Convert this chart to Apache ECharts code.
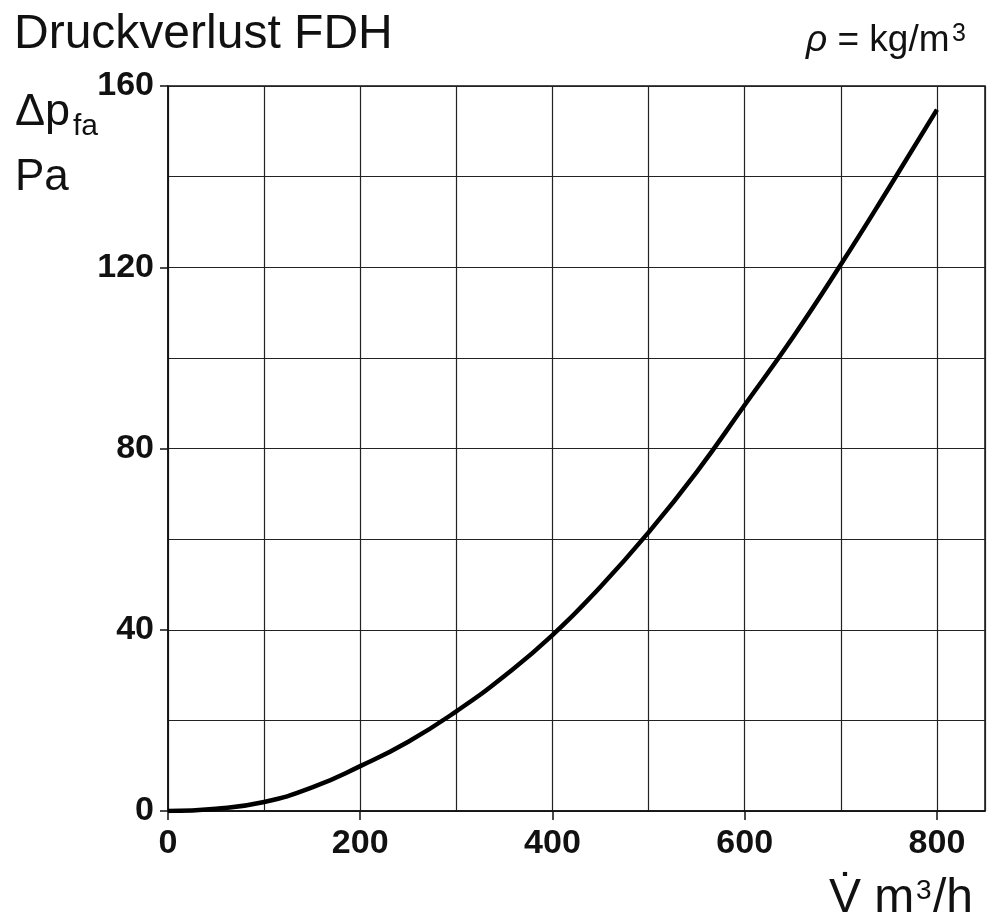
<!DOCTYPE html>
<html>
<head>
<meta charset="utf-8">
<script src="https://cdn.jsdelivr.net/npm/echarts@6/dist/echarts.min.js"></script>
<style>
html,body{margin:0;padding:0;background:#fff;}
#chart{width:1000px;height:921px;}
</style>
</head>
<body>
<div id="chart"></div>
<script>
// Data
const flowRates = [0, 50, 100, 150, 200, 250, 300, 350, 400, 450, 500, 550, 600, 650, 700, 750, 800];
const pressureLoss = [0, 0.5, 2.0, 5.2, 9.9, 15.3, 22.0, 29.8, 38.8, 49.5, 61.5, 74.8, 89.6, 104.5, 120.6, 137.5, 154.8];
const xTickLabels = [0, 200, 400, 600, 800];
const yTickLabels = [0, 40, 80, 120, 160];

const FONT = "'Liberation Sans', Arial, Helvetica, sans-serif";
const chart = echarts.init(document.getElementById('chart'), null, {renderer: 'canvas'});

const seriesData = flowRates.map((v, i) => [v, pressureLoss[i]]);
const gridLine = {show: true, lineStyle: {color: '#222', width: 1.2}};

const option = {
  backgroundColor: '#ffffff',
  animation: false,
  grid: {
    left: 168, right: 15, top: 86, bottom: 110,
    show: true, borderColor: '#111', borderWidth: 1.5, backgroundColor: 'transparent'
  },
  xAxis: [{
    type: 'value', min: 0, max: 850, interval: 100,
    axisLine: {show: true, onZero: false, lineStyle: {color: '#111', width: 1.5}},
    axisTick: {show: true, inside: false, length: 9, customValues: xTickLabels, lineStyle: {color: '#111', width: 1.5}},
    axisLabel: {
      show: true, customValues: xTickLabels, margin: 16,
      fontFamily: FONT, fontWeight: 'bold', fontSize: 34, color: '#111',
      formatter: v => String(v)
    },
    splitLine: {show: false},
    z: 3
  }, {
    type: 'value', min: 0, max: 850, interval: 100, position: 'bottom',
    axisLine: {show: false}, axisTick: {show: false}, axisLabel: {show: false},
    splitLine: gridLine
  }],
  yAxis: [{
    type: 'value', min: 0, max: 160, interval: 20,
    axisLine: {show: true, onZero: false, lineStyle: {color: '#111', width: 1.5}},
    axisTick: {show: true, inside: false, length: 8, customValues: yTickLabels, lineStyle: {color: '#111', width: 1.5}},
    axisLabel: {
      show: true, customValues: yTickLabels, margin: 14,
      fontFamily: FONT, fontWeight: 'bold', fontSize: 34, color: '#111',
      formatter: v => String(v)
    },
    splitLine: {show: false},
    z: 3
  }, {
    type: 'value', min: 0, max: 160, interval: 20, position: 'left',
    axisLine: {show: false}, axisTick: {show: false}, axisLabel: {show: false},
    splitLine: gridLine
  }],
  series: [{
    type: 'line',
    xAxisIndex: 0, yAxisIndex: 0,
    data: seriesData,
    smooth: 0.5,
    showSymbol: false,
    symbol: 'none',
    lineStyle: {color: '#000', width: 4.5},
    z: 5
  }],
  graphic: [
    {type: 'text', left: 14, top: 11, style: {text: 'Druckverlust FDH', font: '48px ' + FONT, fill: '#111'}},
    {type: 'text', x: 15, y: 113, style: {text: 'Δp', font: '45px ' + FONT, fill: '#111', verticalAlign: 'middle'}},
    {type: 'text', x: 73, y: 127, style: {text: 'fa', font: '30px ' + FONT, fill: '#111', verticalAlign: 'middle'}},
    {type: 'text', x: 15, y: 178, style: {text: 'Pa', font: '44px ' + FONT, fill: '#111', verticalAlign: 'middle'}},
    {type: 'text', x: 806, y: 41, style: {
      text: '{i|ρ}{a| = kg/m}', fill: '#111', verticalAlign: 'middle',
      rich: {i: {font: 'italic 37px ' + FONT, fill: '#111'}, a: {font: '37px ' + FONT, fill: '#111'}}
    }},
    {type: 'text', x: 952, y: 34, style: {text: '3', font: '25px ' + FONT, fill: '#111', verticalAlign: 'middle'}},
    {type: 'text', x: 829, y: 899, style: {text: 'V\u0307 m', font: '48px ' + FONT, fill: '#111', verticalAlign: 'middle'}},
    {type: 'text', x: 916, y: 891, style: {text: '3', font: '28px ' + FONT, fill: '#111', verticalAlign: 'middle'}},
    {type: 'text', x: 933, y: 899, style: {text: '/h', font: '48px ' + FONT, fill: '#111', verticalAlign: 'middle'}}
  ]
};
chart.setOption(option);
</script>
</body>
</html>
